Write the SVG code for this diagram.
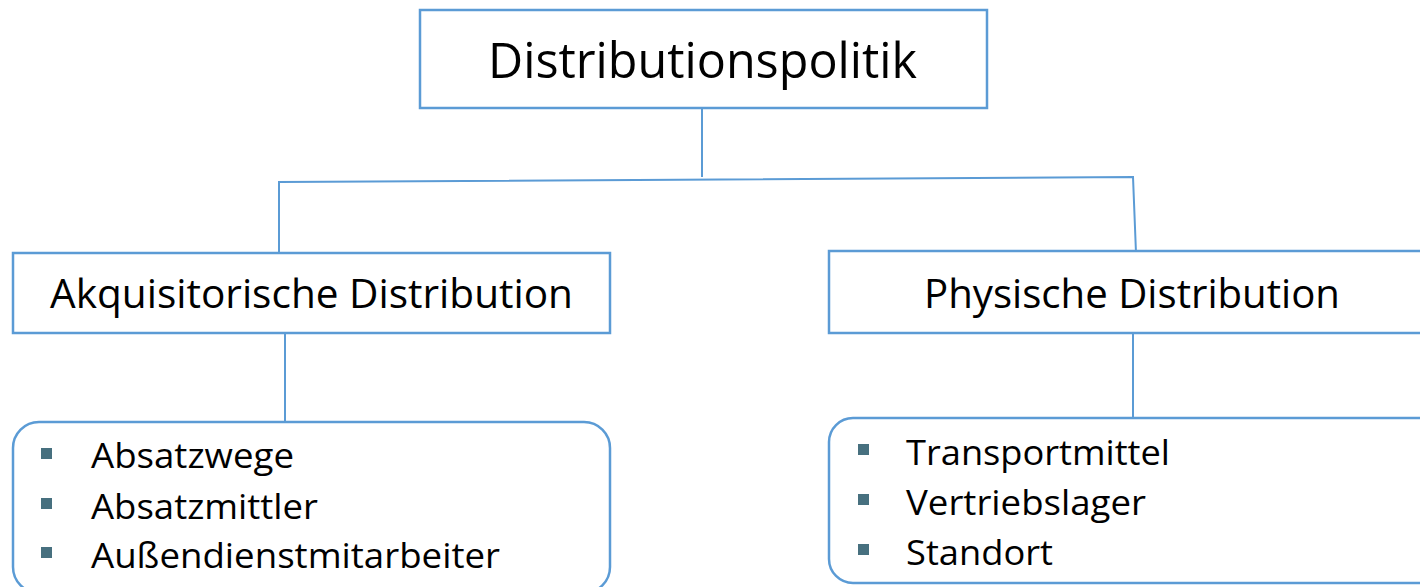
<svg xmlns="http://www.w3.org/2000/svg" width="1420" height="587" viewBox="0 0 1420 587">
<style>
.box{fill:#fff;stroke:#5b9bd5;stroke-width:2.5}
.ln{fill:none;stroke:#5b9bd5;stroke-width:2}
.t{font-family:"Open Sans","Liberation Sans",sans-serif;fill:#000}
.b{fill:#47707f}
</style>
<rect width="1420" height="587" fill="#fff"/>
<g id="connectors">
<line class="ln" x1="702" y1="108" x2="702" y2="177"/>
<polyline class="ln" points="279,253 279,182 1133,177 1136,253"/>
<line class="ln" x1="285" y1="333" x2="285" y2="422"/>
<line class="ln" x1="1133" y1="333" x2="1133" y2="418"/>
</g>
<g id="n-root">
<rect class="box" x="420" y="10" width="567" height="98"/>
<text class="t" x="488" y="78" font-size="49" textLength="429" lengthAdjust="spacingAndGlyphs">Distributionspolitik</text>
</g>
<g id="n-akq">
<rect class="box" x="13" y="253" width="597" height="80"/>
<text class="t" x="50" y="308" font-size="41" textLength="523" lengthAdjust="spacingAndGlyphs">Akquisitorische Distribution</text>
</g>
<g id="n-phys">
<rect class="box" x="829" y="251" width="600" height="82"/>
<text class="t" x="924" y="308" font-size="41" textLength="416" lengthAdjust="spacingAndGlyphs">Physische Distribution</text>
</g>
<g id="n-akq-list">
<rect class="box" x="13" y="422" width="597" height="171" rx="26"/>
<rect class="b" x="41" y="448" width="11" height="11"/>
<rect class="b" x="41" y="498" width="11" height="11"/>
<rect class="b" x="41" y="547" width="11" height="11"/>
<text class="t" x="91" y="468" font-size="35" textLength="203" lengthAdjust="spacingAndGlyphs">Absatzwege</text>
<text class="t" x="91" y="519" font-size="35" textLength="227" lengthAdjust="spacingAndGlyphs">Absatzmittler</text>
<text class="t" x="91" y="568" font-size="35" textLength="409" lengthAdjust="spacingAndGlyphs">Außendienstmitarbeiter</text>
</g>
<g id="n-phys-list">
<rect class="box" x="829" y="418" width="620" height="165" rx="24"/>
<rect class="b" x="858" y="444" width="11" height="11"/>
<rect class="b" x="858" y="494" width="11" height="11"/>
<rect class="b" x="858" y="544" width="11" height="11"/>
<text class="t" x="906" y="465" font-size="35" textLength="264" lengthAdjust="spacingAndGlyphs">Transportmittel</text>
<text class="t" x="906" y="515" font-size="35" textLength="240" lengthAdjust="spacingAndGlyphs">Vertriebslager</text>
<text class="t" x="906" y="565" font-size="35" textLength="147" lengthAdjust="spacingAndGlyphs">Standort</text>
</g>
</svg>
